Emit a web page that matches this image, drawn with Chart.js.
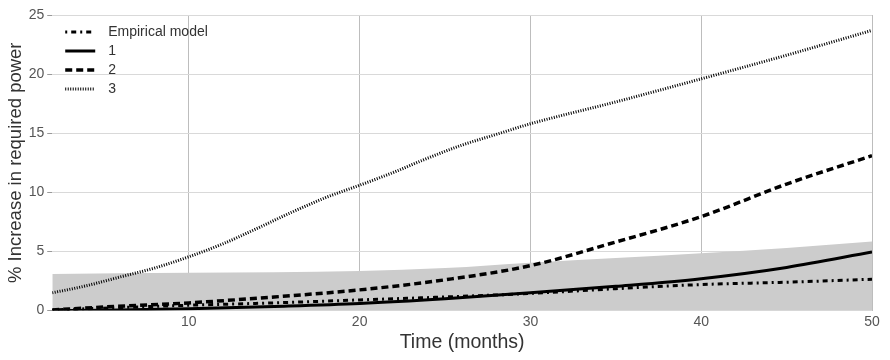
<!DOCTYPE html>
<html>
<head>
<meta charset="utf-8">
<script src="https://cdn.jsdelivr.net/npm/chart.js@4.4.0/dist/chart.umd.min.js"></script>
<style>
  html, body { margin: 0; padding: 0; background: #fff; }
  #wrap { width: 890px; height: 360px; }
</style>
</head>
<body>
<div id="wrap"><canvas id="chart"></canvas></div>
<script>
const months = [2, 5, 10, 15, 20, 25, 30, 35, 40, 45, 50];
const empirical = [0.05, 0.2, 0.45, 0.65, 0.9, 1.15, 1.45, 1.85, 2.2, 2.4, 2.65];
const model1 = [0, 0.03, 0.15, 0.35, 0.6, 1.0, 1.5, 2.05, 2.7, 3.65, 4.95];
const model2 = [0.05, 0.3, 0.65, 1.15, 1.75, 2.6, 3.8, 5.8, 7.95, 10.7, 13.1];
const model3Months = [2, 4, 6, 8, 10, 12, 14, 16, 18, 20, 22, 24, 26, 28, 30, 35, 40, 45, 50];
const model3 = [1.5, 2.1, 2.85, 3.6, 4.55, 5.65, 6.95, 8.3, 9.55, 10.6, 11.7, 12.9, 14.0, 14.9, 15.8, 17.65, 19.6, 21.6, 23.7];
//Upper edge of the grey band
const bandMonths = [2, 10, 20, 25, 30, 35, 40, 45, 50];
const bandTop = [3.1, 3.2, 3.35, 3.6, 4.05, 4.45, 4.85, 5.3, 5.85];
const xTicks = [10, 20, 30, 40, 50];

const toPoints = (xs, ys) => xs.map((x, i) => ({ x: x, y: ys[i] }));

Chart.defaults.font.family = "'Liberation Sans', Arial, sans-serif";
Chart.defaults.color = "#555";

//Legend drawn inside the plot, top left, with the dash patterns of each line
const insideLegend = {
  id: "insideLegend",
  afterDatasetsDraw(chart) {
    const ctx = chart.ctx;
    const area = chart.chartArea;
    const x0 = area.left + 13;
    let y = area.top + 17;
    ctx.save();
    ctx.font = "14px 'Liberation Sans', Arial, sans-serif";
    ctx.textBaseline = "middle";
    chart.data.datasets.forEach((ds) => {
      if (ds.label === "band") return;
      ctx.beginPath();
      ctx.setLineDash(ds.borderDash || []);
      ctx.lineWidth = ds.borderWidth;
      ctx.strokeStyle = ds.borderColor;
      ctx.moveTo(x0, y);
      ctx.lineTo(x0 + 30, y);
      ctx.stroke();
      ctx.setLineDash([]);
      ctx.fillStyle = "#333";
      ctx.fillText(ds.label, x0 + 43, y);
      y += 19;
    });
    ctx.restore();
  },
};

const ctx = document.getElementById("chart").getContext("2d");
const chart = new Chart(ctx, {
  type: "line",
  data: {
    datasets: [
      {
        label: "band",
        data: toPoints(bandMonths, bandTop),
        borderWidth: 0,
        borderColor: "rgba(0,0,0,0)",
        backgroundColor: "#cccccc",
        fill: "origin",
        cubicInterpolationMode: "monotone",
        pointRadius: 0,
        order: 10,
      },
      {
        label: "Empirical model",
        data: toPoints(months, empirical),
        borderColor: "#000",
        borderWidth: 3,
        borderDash: [2, 4, 5, 4],
        cubicInterpolationMode: "monotone",
        pointRadius: 0,
        fill: false,
      },
      {
        label: "1",
        data: toPoints(months, model1),
        borderColor: "#000",
        borderWidth: 3,
        cubicInterpolationMode: "monotone",
        pointRadius: 0,
        fill: false,
      },
      {
        label: "2",
        data: toPoints(months, model2),
        borderColor: "#000",
        borderWidth: 3.5,
        borderDash: [7, 4],
        cubicInterpolationMode: "monotone",
        pointRadius: 0,
        fill: false,
      },
      {
        label: "3",
        data: toPoints(model3Months, model3),
        borderColor: "#000",
        borderWidth: 3,
        borderDash: [1, 1.5],
        cubicInterpolationMode: "monotone",
        pointRadius: 0,
        fill: false,
      },
    ],
  },
  options: {
    responsive: true,
    maintainAspectRatio: false,
    animation: false,
    layout: { padding: { left: 8, right: 18, top: 15, bottom: 0 } },
    plugins: {
      legend: { display: false },
      tooltip: { enabled: false },
    },
    scales: {
      x: {
        type: "linear",
        min: 2,
        max: 50,
        afterBuildTicks: (axis) => {
          axis.ticks = xTicks.map((v) => ({ value: v }));
        },
        grid: { color: "#bdbdbd", drawTicks: false },
        border: { display: false },
        ticks: { font: { size: 14 }, color: "#555", padding: 3 },
        title: {
          display: true,
          text: "Time (months)",
          color: "#333",
          font: { size: 19.5, lineHeight: 0.93 },
          padding: { top: 0, bottom: 8.5 },
        },
      },
      y: {
        min: 0,
        max: 25,
        ticks: { stepSize: 5, font: { size: 14 }, color: "#555", padding: 3 },
        grid: { color: "#d9d9d9", tickLength: 5, tickColor: "#999" },
        border: { display: false },
        title: {
          display: true,
          text: "% Increase in required power",
          color: "#333",
          font: { size: 18.5, lineHeight: 0.9 },
          padding: { top: 0, bottom: 1 },
        },
      },
    },
  },
  plugins: [insideLegend],
});
</script>
</body>
</html>
